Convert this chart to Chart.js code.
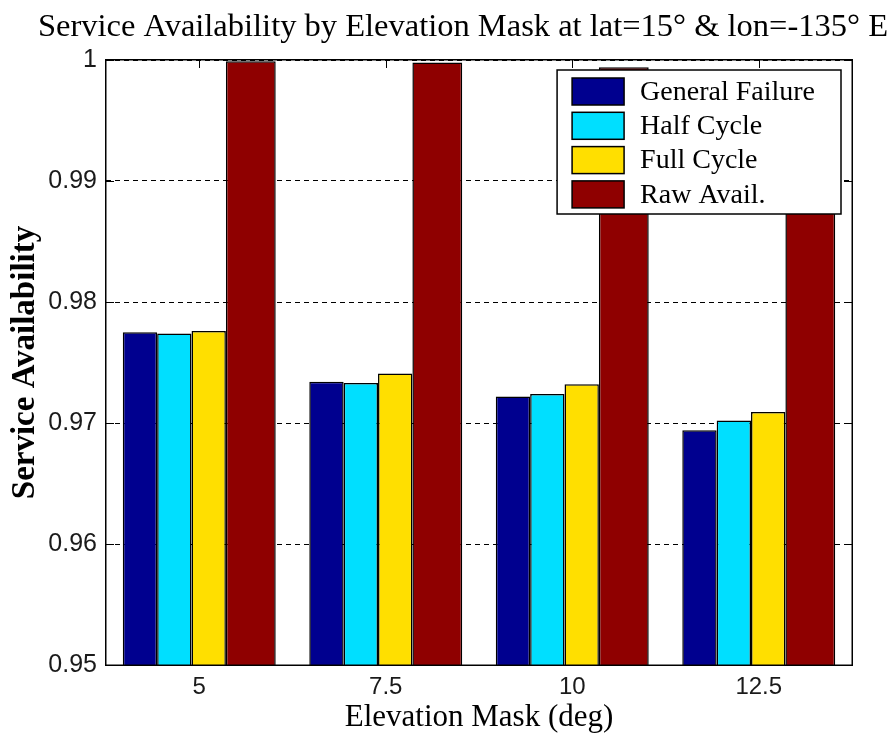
<!DOCTYPE html>
<html>
<head>
<meta charset="utf-8">
<title>Service Availability by Elevation Mask</title>
<script src="https://cdn.jsdelivr.net/npm/chart.js@4.4.1/dist/chart.umd.min.js"></script>
<style>
  html, body { margin: 0; padding: 0; background: #ffffff; }
  #wrap { width: 890px; height: 736px; background: #ffffff; }
</style>
</head>
<body>
<div id="wrap"><canvas id="chart" width="890" height="736"></canvas></div>
<script>
// ---- data -------------------------------------------------------------
const elevationMasks = ['5', '7.5', '10', '12.5'];
const generalFailure = [0.9775, 0.9734, 0.9722, 0.9694];
const halfCycle      = [0.9774, 0.9733, 0.9724, 0.9702];
const fullCycle      = [0.9776, 0.9741, 0.9732, 0.9709];
const rawAvail       = [0.9999, 0.9998, 0.9994, 0.9987];
const seriesNames    = ['General Failure', 'Half Cycle', 'Full Cycle', 'Raw Avail.'];
const yTickValues    = [0.95, 0.96, 0.97, 0.98, 0.99, 1];
const yTickLabels    = ['0.95', '0.96', '0.97', '0.98', '0.99', '1'];
const chartTitle     = 'Service Availability by Elevation Mask at lat=15\u00B0 & lon=-135\u00B0 E';

// ---- styling ----------------------------------------------------------
const seriesColors = ['#00008F', '#00DFFF', '#FFDF00', '#8F0000'];
const barWeights   = [1, 1, 1, 1.45];          // relative widths inside a group
const SERIF = '"Liberation Serif", "Times New Roman", serif';
const SANS  = '"Liberation Sans", Arial, sans-serif';

// Re-split each group's span so the last series gets a wider bar.
const groupWidths = {
  id: 'groupWidths',
  beforeDatasetsDraw(chart) {
    const metas = chart.data.datasets.map((d, i) => chart.getDatasetMeta(i));
    const total = barWeights.reduce((a, b) => a + b, 0);
    chart.data.labels.forEach((lab, j) => {
      const bars = metas.map(m => m.data[j]);
      const left = Math.min(...bars.map(b => b.x - b.width / 2));
      const right = Math.max(...bars.map(b => b.x + b.width / 2));
      const unit = (right - left) / total;
      let x = left;
      bars.forEach((b, k) => {
        const w = unit * barWeights[k];
        b.width = w;
        b.x = x + w / 2;
        x += w;
      });
    });
  }
};

// Boxed axes with inward tick marks.
const axesFrame = {
  id: 'axesFrame',
  beforeDatasetsDraw(chart) {
    const { ctx, chartArea: a, scales: { x } } = chart;
    ctx.save();
    ctx.strokeStyle = '#000';
    ctx.lineWidth = 1;
    x.ticks.forEach((t, i) => {
      const px = Math.round(x.getPixelForTick(i)) + 0.5;
      ctx.beginPath();
      ctx.moveTo(px, a.bottom);
      ctx.lineTo(px, a.bottom - 8);
      ctx.stroke();
    });
    ctx.restore();
  },
  afterDatasetsDraw(chart) {
    const { ctx, chartArea: a, scales: { x, y } } = chart;
    ctx.save();
    ctx.strokeStyle = '#000';
    ctx.lineWidth = 1;
    y.ticks.forEach((t, i) => {
      const py = Math.round(y.getPixelForTick(i)) + 0.5;
      ctx.beginPath();
      ctx.moveTo(a.left, py);  ctx.lineTo(a.left + 8, py);
      ctx.moveTo(a.right, py); ctx.lineTo(a.right - 8, py);
      ctx.stroke();
    });
    x.ticks.forEach((t, i) => {
      const px = Math.round(x.getPixelForTick(i)) + 0.5;
      ctx.beginPath();
      ctx.moveTo(px, a.top);
      ctx.lineTo(px, a.top + 8);
      ctx.stroke();
    });
    ctx.lineWidth = 1.5;
    ctx.strokeRect(a.left - 0.25, a.top - 0.25, a.right - a.left + 0.5, a.bottom - a.top + 0.5);
    ctx.restore();
  }
};

// Title across the top and a boxed legend in the upper right of the plot.
const titleAndLegend = {
  id: 'titleAndLegend',
  afterDraw(chart) {
    const { ctx, chartArea: a } = chart;
    ctx.save();
    ctx.fillStyle = '#000';
    ctx.font = '32.5px ' + SERIF;
    ctx.textAlign = 'center';
    ctx.textBaseline = 'middle';
    ctx.fillText(chartTitle, 463, 27);

    ctx.font = '28px ' + SERIF;
    const textW = Math.max(...chart.data.datasets.map(d => ctx.measureText(d.label).width));
    const sw = 52, sh = 27, rowH = 34.3, padL = 15, gap = 16, padR = 26;
    const w = padL + sw + gap + textW + padR;
    const h = 144;
    const bx = a.right - 11 - w;
    const by = a.top + 10;
    ctx.fillStyle = '#fff';
    ctx.fillRect(bx, by, w, h);
    ctx.strokeStyle = '#000';
    ctx.lineWidth = 1.5;
    ctx.strokeRect(bx, by, w, h);
    ctx.textAlign = 'left';
    chart.data.datasets.forEach((d, i) => {
      const ry = by + 8 + i * rowH;
      ctx.fillStyle = d.backgroundColor;
      ctx.fillRect(bx + padL, ry, sw, sh);
      ctx.lineWidth = 1.5;
      ctx.strokeRect(bx + padL, ry, sw, sh);
      ctx.fillStyle = '#000';
      ctx.fillText(d.label, bx + padL + sw + gap, ry + sh / 2 + 1);
    });
    ctx.restore();
  }
};

const seriesValues = [generalFailure, halfCycle, fullCycle, rawAvail];

new Chart(document.getElementById('chart'), {
  type: 'bar',
  data: {
    labels: elevationMasks,
    datasets: seriesValues.map((vals, i) => ({
      label: seriesNames[i],
      data: vals,
      backgroundColor: seriesColors[i],
      borderColor: '#000',
      borderWidth: 1.5,
      categoryPercentage: 0.82,
      barPercentage: 1
    }))
  },
  options: {
    responsive: false,
    animation: false,
    devicePixelRatio: 1,
    events: [],
    layout: { padding: { top: 60, right: 38, left: 0, bottom: 0 } },
    plugins: { legend: { display: false }, title: { display: false }, tooltip: { enabled: false } },
    scales: {
      x: {
        type: 'category',
        offset: true,
        grid: { display: false, drawTicks: false },
        border: { display: false },
        ticks: { color: '#1a1a1a', font: { family: SANS, size: 24 }, padding: 8, maxRotation: 0 },
        title: { display: true, text: 'Elevation Mask (deg)', color: '#000',
                 font: { family: SERIF, size: 31 }, padding: { top: 0, bottom: 0 } },
        afterFit(scale) { scale.height = 71; }
      },
      y: {
        min: 0.95,
        max: 1,
        grid: { color: '#000', lineWidth: 1, drawTicks: false },
        border: { display: false, dash: [5, 4] },
        afterBuildTicks(scale) { scale.ticks = yTickValues.map(v => ({ value: v })); },
        ticks: {
          color: '#1a1a1a',
          font: { family: SANS, size: 25 },
          padding: 9,
          callback: (v, i) => yTickLabels[i]
        },
        title: { display: true, text: 'Service Availability', color: '#000', align: 'center',
                 font: { family: SERIF, size: 33, weight: 'bold' }, padding: { top: 6, bottom: 0 } },
        afterFit(scale) { scale.width = 106; }
      }
    }
  },
  plugins: [groupWidths, axesFrame, titleAndLegend]
});
</script>
</body>
</html>
